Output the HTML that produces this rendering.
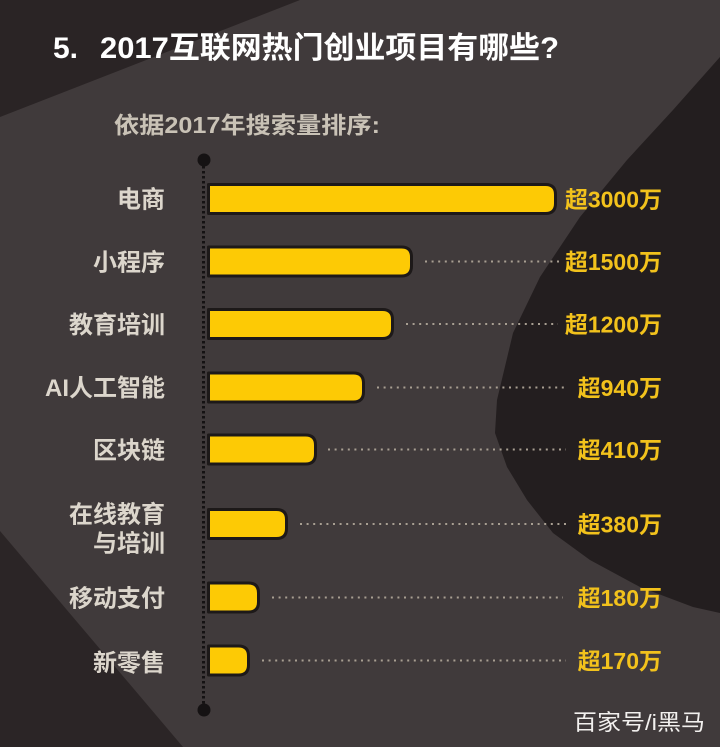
<!DOCTYPE html>
<html>
<head>
<meta charset="utf-8">
<style>
  html,body{margin:0;padding:0;background:#403a3b;}
  svg{display:block;}
  .cjk{font-family:"Liberation Sans","Noto Sans CJK SC",sans-serif;}
</style>
</head>
<body>
<svg width="720" height="747" viewBox="0 0 720 747" xmlns="http://www.w3.org/2000/svg">
  <!-- background -->
  <rect x="0" y="0" width="720" height="747" fill="#403a3b"/>
  <polygon points="0,0 300,0 0,117" fill="#2a2425"/>
  <polygon points="0,531 183,747 0,747" fill="#2b2526"/>
  <polygon points="720,57 673,110 627,160 580,217 540,277 513,333 497,400 495,433 507,467 527,500 553,533 590,560 640,587 693,607 720,613" fill="#231e1f"/>

  <!-- title -->
  <text class="cjk" x="53" y="58" font-size="30" font-weight="700" fill="#ffffff">5.</text>
  <text class="cjk" x="100" y="58" font-size="30" font-weight="700" fill="#ffffff" textLength="459" lengthAdjust="spacingAndGlyphs">2017互联网热门创业项目有哪些?</text>
  <text class="cjk" x="114" y="133" font-size="23" font-weight="700" fill="#c9c2b6" textLength="266" lengthAdjust="spacingAndGlyphs">依据2017年搜索量排序:</text>

  <!-- axis -->
  <line x1="203.5" y1="166" x2="203.5" y2="705" stroke="#151213" stroke-width="3" stroke-dasharray="2.5 2.5"/>
  <circle cx="204" cy="160" r="6.5" fill="#151213"/>
  <circle cx="204" cy="710" r="6.5" fill="#151213"/>

  <!-- leaders -->
  <g stroke="#a89f92" stroke-width="2" stroke-dasharray="2 4.6">
    <line x1="425" y1="261.5" x2="560" y2="261.5"/>
    <line x1="406" y1="324" x2="558" y2="324"/>
    <line x1="377" y1="387.5" x2="566" y2="387.5"/>
    <line x1="328" y1="449.5" x2="566" y2="449.5"/>
    <line x1="300" y1="524" x2="566" y2="524"/>
    <line x1="272" y1="597.5" x2="563" y2="597.5"/>
    <line x1="262" y1="660.5" x2="566" y2="660.5"/>
  </g>

  <!-- bars -->
  <g fill="#fdca05" stroke="#1d1919" stroke-width="3" stroke-linejoin="round">
    <path d="M208.5,184.5 H545.5 Q555.5,184.5 555.5,194.5 V203.5 Q555.5,213.5 545.5,213.5 H208.5 Z"/>
    <path d="M208.5,247 H401.5 Q411.5,247 411.5,257 V266 Q411.5,276 401.5,276 H208.5 Z"/>
    <path d="M208.5,309.5 H382.5 Q392.5,309.5 392.5,319.5 V328.5 Q392.5,338.5 382.5,338.5 H208.5 Z"/>
    <path d="M208.5,373 H353.5 Q363.5,373 363.5,383 V392 Q363.5,402 353.5,402 H208.5 Z"/>
    <path d="M208.5,435 H305.5 Q315.5,435 315.5,445 V454 Q315.5,464 305.5,464 H208.5 Z"/>
    <path d="M208.5,509.5 H276.5 Q286.5,509.5 286.5,519.5 V528.5 Q286.5,538.5 276.5,538.5 H208.5 Z"/>
    <path d="M208.5,583 H248.5 Q258.5,583 258.5,593 V602 Q258.5,612 248.5,612 H208.5 Z"/>
    <path d="M208.5,646 H238.5 Q248.5,646 248.5,656 V665 Q248.5,675 238.5,675 H208.5 Z"/>
  </g>

  <!-- category labels -->
  <g class="cjk" font-size="24" font-weight="700" fill="#dcd6cc" text-anchor="end">
    <text x="165" y="207.5">电商</text>
    <text x="165" y="270.5">小程序</text>
    <text x="165" y="333">教育培训</text>
    <text x="165" y="396">AI人工智能</text>
    <text x="165" y="458.5">区块链</text>
    <text x="165" y="522.5">在线教育</text>
    <text x="165" y="551.5">与培训</text>
    <text x="165" y="606.5">移动支付</text>
    <text x="165" y="671">新零售</text>
  </g>

  <!-- value labels -->
  <g class="cjk" font-size="23" font-weight="700" fill="#f2c21c" text-anchor="end">
    <text x="662" y="207.5">超3000万</text>
    <text x="662" y="270">超1500万</text>
    <text x="662" y="332.5">超1200万</text>
    <text x="662" y="396">超940万</text>
    <text x="662" y="458">超410万</text>
    <text x="662" y="532.5">超380万</text>
    <text x="662" y="606">超180万</text>
    <text x="662" y="669">超170万</text>
  </g>

  <!-- watermark -->
  <text class="cjk" x="573" y="730" font-size="22" fill="#f2f0ee" textLength="132" lengthAdjust="spacingAndGlyphs">百家号/i黑马</text>
</svg>
</body>
</html>
